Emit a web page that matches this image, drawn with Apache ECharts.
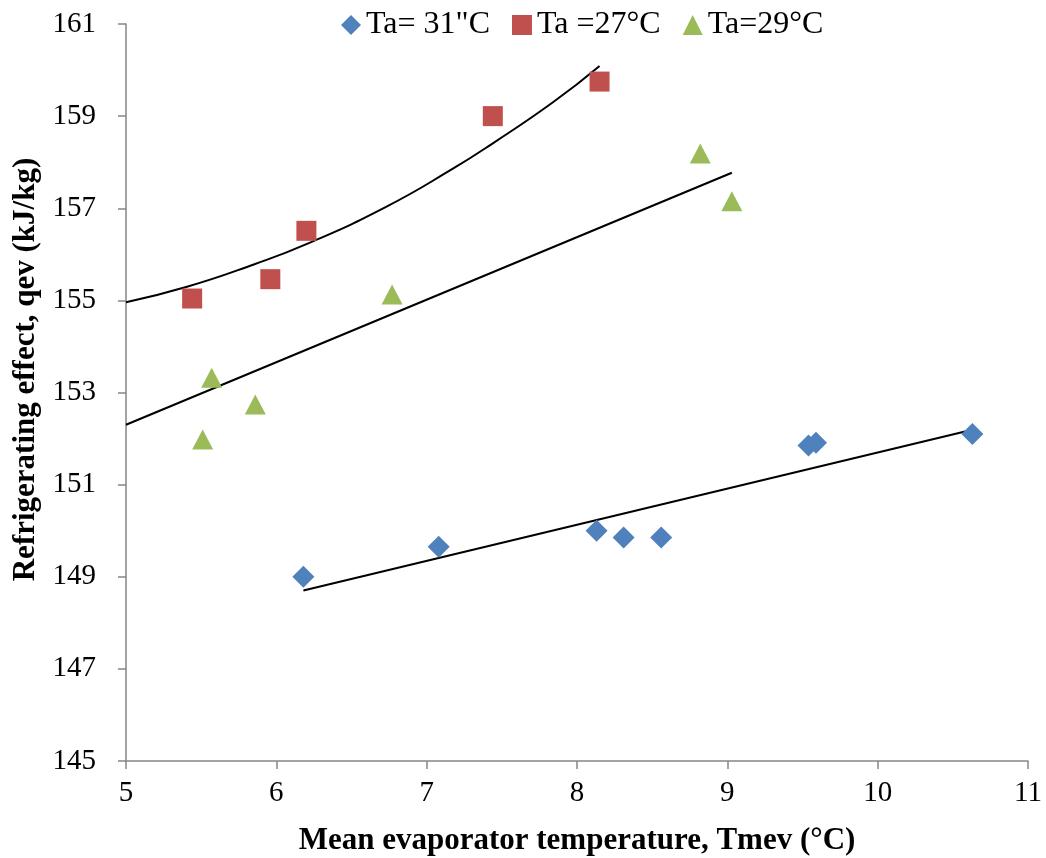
<!DOCTYPE html>
<html>
<head>
<meta charset="utf-8">
<script src="https://cdn.jsdelivr.net/npm/echarts@6/dist/echarts.min.js"></script>
<style>
html,body{margin:0;padding:0;background:#fff;}
#chart{width:1046px;height:858px;}
</style>
</head>
<body>
<div id="chart"></div>
<script>
// measured points (Tmev, qev)
var ta31 = [[6.18,149.0],[7.08,149.65],[8.13,150.0],[8.31,149.85],[8.56,149.85],[9.54,151.85],[9.59,151.91],[10.63,152.10]];
var ta27 = [[5.44,155.04],[5.96,155.46],[6.20,156.51],[7.44,159.0],[8.15,159.75]];
var ta29 = [[5.51,151.98],[5.57,153.32],[5.86,152.74],[6.77,155.13],[8.82,158.19],[9.03,157.15]];
// trend lines
var trend31 = [[6.18,148.70],[10.63,152.19]];
var trend27 = [[5,154.96],[5.4,155.29],[5.85,155.78],[6.2,156.22],[6.73,157.03],[7.18,157.87],[7.44,158.41],[7.84,159.3],[8.15,160.09]];
var trend29 = [[5,152.30],[9.03,157.77]];
var names = ['Ta= 31"C','Ta =27°C','Ta=29°C'];

var font = 'Liberation Serif';
var axisGray = '#868686';

function trendSeries(d, smooth){
    return {
        type:'line', data:d, smooth:smooth, showSymbol:false, symbol:'none',
        lineStyle:{color:'#000',width:2}, z:1, silent:true
    };
}

var option = {
    animation:false,
    grid:{left:126,right:18,top:24,bottom:97,containLabel:false,outerBoundsMode:'none'},
    legend:{
        data:[{name:names[0],icon:'diamond'},{name:names[1],icon:'rect'},{name:names[2],icon:'triangle'}],
        top:4, left:336, itemWidth:20, itemHeight:20, itemGap:22,
        textStyle:{fontFamily:font,fontSize:32,color:'#000'}
    },
    xAxis:{
        type:'value', min:5, max:11, interval:1,
        name:'Mean evaporator temperature, Tmev (°C)', nameLocation:'middle', nameGap:64,
        nameTextStyle:{fontFamily:font,fontSize:31,fontWeight:'bold',color:'#000'},
        axisLine:{lineStyle:{color:axisGray,width:1.5}},
        axisTick:{show:true,length:8,lineStyle:{color:axisGray,width:1.5}},
        axisLabel:{fontFamily:font,fontSize:29,color:'#000',margin:18},
        splitLine:{show:false}
    },
    yAxis:{
        type:'value', min:145, max:161, interval:2,
        name:'Refrigerating effect, qev (kJ/kg)', nameLocation:'middle', nameGap:84, nameRotate:90,
        nameTextStyle:{fontFamily:font,fontSize:31,fontWeight:'bold',color:'#000',padding:[0,0,0,46]},
        axisLine:{show:true,lineStyle:{color:axisGray,width:1.5}},
        axisTick:{show:true,length:8,lineStyle:{color:axisGray,width:1.5}},
        axisLabel:{fontFamily:font,fontSize:29,color:'#000',margin:30},
        splitLine:{show:false}
    },
    series:[
        {name:names[0],type:'scatter',data:ta31,symbol:'diamond',symbolSize:[22,22],itemStyle:{color:'#4F81BD',opacity:1},z:3},
        {name:names[1],type:'scatter',data:ta27,symbol:'rect',symbolSize:[20,20],itemStyle:{color:'#C0504D',opacity:1},z:3},
        {name:names[2],type:'scatter',data:ta29,symbol:'triangle',symbolSize:[21,20],itemStyle:{color:'#9BBB59',opacity:1},z:3},
        trendSeries(trend31,false),
        trendSeries(trend27,0.5),
        trendSeries(trend29,false)
    ]
};
var myChart = echarts.init(document.getElementById('chart'));
myChart.setOption(option);
</script>
</body>
</html>
